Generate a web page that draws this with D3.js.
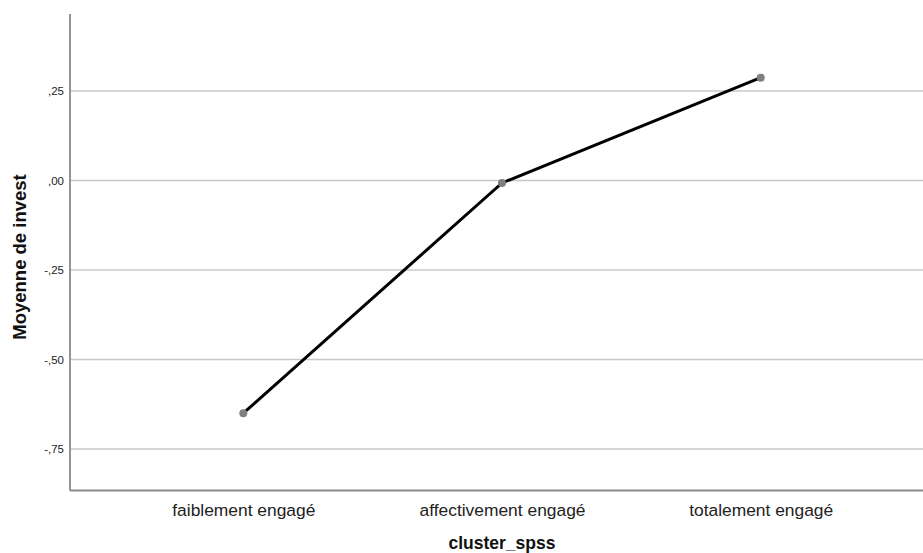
<!DOCTYPE html>
<html><head><meta charset="utf-8">
<script src="https://cdn.jsdelivr.net/npm/d3@7"></script>
<style>body{margin:0;background:#fff}svg{display:block}text{font-family:"Liberation Sans",Arial,sans-serif}</style>
</head><body><svg id="c" width="923" height="553"></svg>
<script>
const categories = ["faiblement engagé", "affectivement engagé", "totalement engagé"];
const means = [-0.650, -0.007, 0.287];
const yTicks = [0.25, 0.00, -0.25, -0.50, -0.75];
const yTickLabels = [",25", ",00", "-,25", "-,50", "-,75"];

(function () {
const svg = d3.select("#c");
const mLeft = 70, mTop = 14, mBottom = 490.5, mRight = 923;
const y = d3.scaleLinear().domain([-0.866, 0.465]).range([mBottom, mTop]);
const x = d3.scalePoint().domain(categories).range([mLeft, 934]).padding(0.67);

// gridlines
svg.append("g").selectAll("line").data(yTicks).join("line")
  .attr("x1", mLeft).attr("x2", mRight)
  .attr("y1", d => y(d)).attr("y2", d => y(d))
  .attr("stroke", "#c8c8c8").attr("stroke-width", 1.5);

// y axis
const yAxis = d3.axisLeft(y).tickValues(yTicks).tickSize(0).tickPadding(6)
  .tickFormat((d, i) => yTickLabels[i]);
const gy = svg.append("g").attr("transform", `translate(${mLeft},0)`).call(yAxis);
gy.select(".domain").remove();
gy.selectAll("text").attr("font-size", 11.5).attr("fill", "#222").attr("font-family", "Liberation Sans, Arial, sans-serif");

// x axis
const xAxis = d3.axisBottom(x).tickSize(0).tickPadding(13.4);
const gx = svg.append("g").attr("transform", `translate(0,${mBottom})`).call(xAxis);
gx.select(".domain").remove();
gx.selectAll("text").attr("font-size", 17.4).attr("fill", "#222").attr("font-family", "Liberation Sans, Arial, sans-serif");

// axis lines
svg.append("line").attr("x1", mLeft).attr("x2", mLeft).attr("y1", mTop).attr("y2", mBottom)
  .attr("stroke", "#8a8a8a").attr("stroke-width", 1.8);
svg.append("line").attr("x1", mLeft).attr("x2", mRight).attr("y1", mBottom).attr("y2", mBottom)
  .attr("stroke", "#8a8a8a").attr("stroke-width", 1.8);

// line
const line = d3.line().x((d, i) => x(categories[i])).y(d => y(d));
svg.append("path").datum(means).attr("d", line)
  .attr("fill", "none").attr("stroke", "#000").attr("stroke-width", 3);

svg.append("g").selectAll("circle").data(means).join("circle")
  .attr("cx", (d, i) => x(categories[i])).attr("cy", d => y(d)).attr("r", 4)
  .attr("fill", "#7f7f7f");

// titles
svg.append("text").attr("x", x(categories[1])).attr("y", 549).attr("text-anchor", "middle")
  .attr("font-size", 17.5).attr("font-weight", "bold").attr("fill", "#111").text("cluster_spss");
svg.append("text").attr("transform", `translate(26,257) rotate(-90)`)
  .attr("text-anchor", "middle").attr("font-size", 18.5).attr("font-weight", "bold").attr("fill", "#111")
  .text("Moyenne de invest");
})();
</script></body></html>
